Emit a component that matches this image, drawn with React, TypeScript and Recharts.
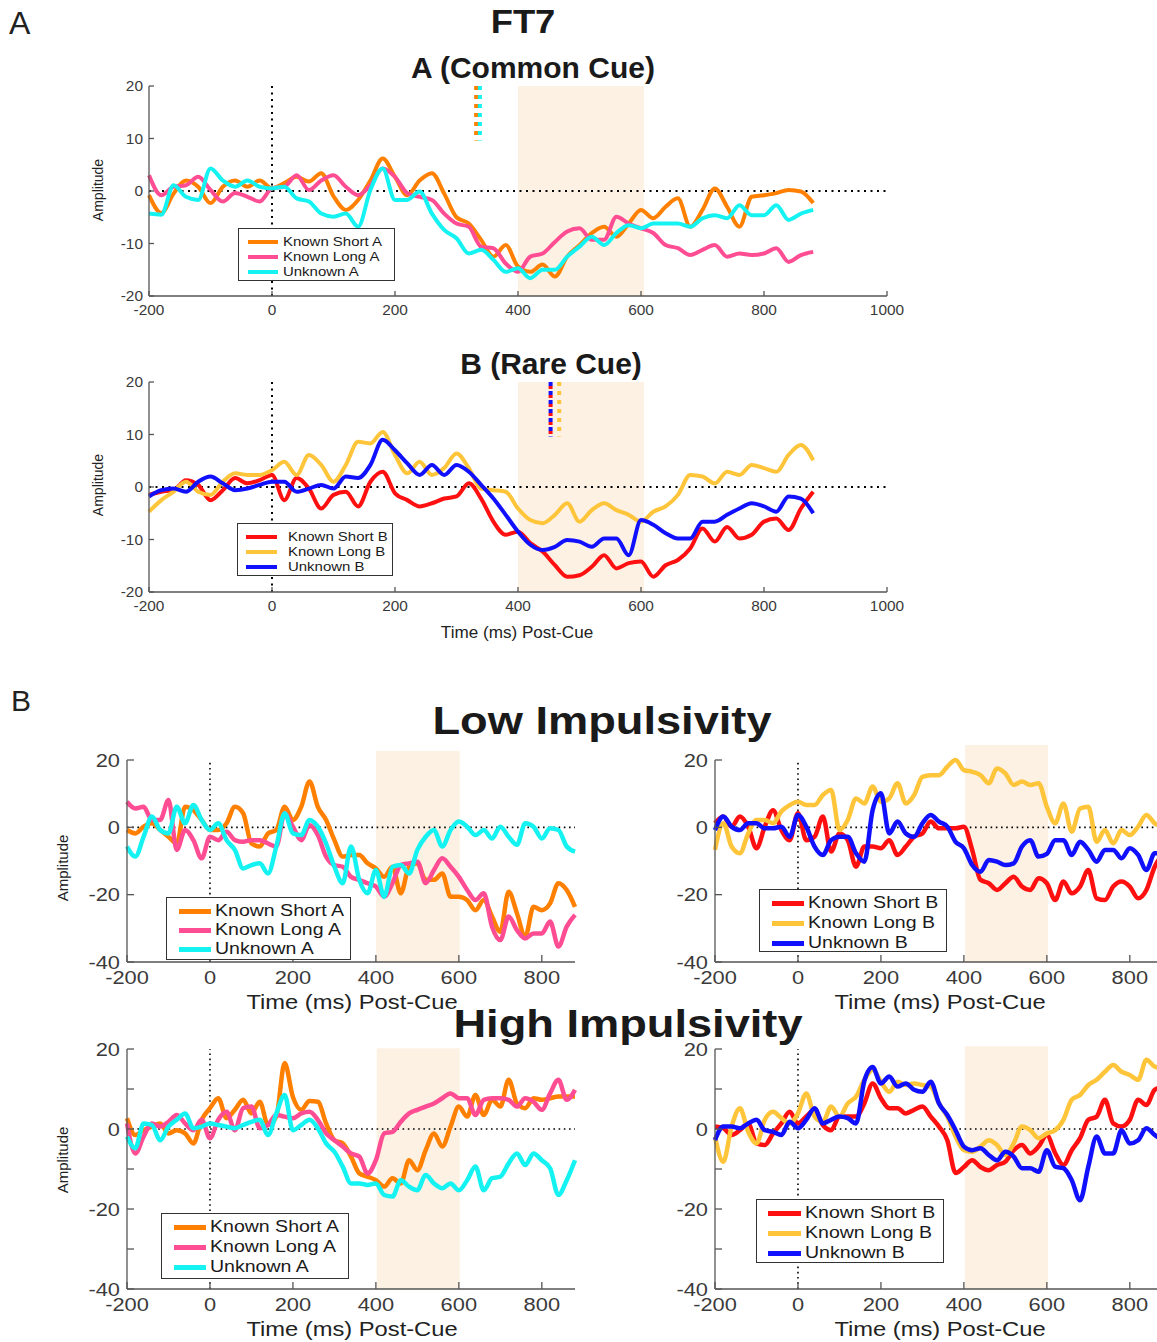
import React from "react";
import { LineChart, Line, XAxis, YAxis, ReferenceArea, ReferenceLine } from "recharts";

const FONT = "'Liberation Sans', Arial, Helvetica, sans-serif";

const TIMES = [
  -200, -180, -160, -140, -120, -100, -80, -60, -40, -20,
  0, 20, 40, 60, 80, 100, 120, 140, 160, 180,
  200, 220, 240, 260, 280, 300, 320, 340, 360, 380,
  400, 420, 440, 460, 480, 500, 520, 540, 560, 580,
  600, 620, 640, 660, 680, 700, 720, 740, 760, 780,
  800, 820, 840, 860, 880,
];

// FT7, common cue (A)
const commonShort = [
  -0.8, -4.2, -0.5, 2, 0.8, -2.3, 0.8, 2, 0.8, 2,
  0.5, 1.5, 2.7, 1.8, 3.4, -1, -3.6, -1.7, 2, 6.2,
  2.7, -0.8, 2, 3.4, -0.5, -5, -6.2, -9.3, -12.5, -10.3,
  -14.4, -15.4, -14, -16.3, -12.5, -10.3, -8, -6.8, -8.7, -6.2,
  -3.6, -5.2, -3, -1.4, -6.8, -3.6, 0.5, -3, -6.8, -1.1,
  -0.8, -0.4, 0.2, -0.1, -2.3,
];
const commonLong = [
  3, -0.8, 0.8, 1.1, 2.7, 0.2, -2, -0.4, -1.1, -2,
  0.5, 0.8, 3, 0.2, 2, 3, 0.8, -0.8, 1.1, 4.3,
  2.7, -0.4, -1.1, -1.7, -4.3, -6.2, -6.8, -10.6, -10.9, -13.8,
  -15.4, -12.5, -11.9, -9.7, -7.7, -7.1, -9.3, -9.3, -4.9, -6.2,
  -7.1, -8, -10.3, -10.9, -12.2, -11.2, -10.3, -12.5, -11.9, -12.2,
  -11.9, -10.9, -13.5, -12.2, -11.6,
];
const commonUnknown = [
  -4.3, -4.5, 1.1, -1.1, -1.7, 4.3, 2, 0.8, 2, 0.8,
  0.5, 0.8, -1.4, -2, -4.3, -4.9, -4.3, -6.8, 0.2, 4.3,
  -1.7, -1.7, -0.1, -4.3, -7.4, -9, -11.9, -11.2, -13.1, -15.4,
  -14.7, -16.6, -15, -15, -12.5, -10.6, -8.7, -10.3, -8, -6.5,
  -7.1, -6.2, -6.2, -6.2, -6.8, -5.2, -4.6, -5.2, -2.7, -4.6,
  -4.6, -2.7, -5.5, -4.3, -3.6,
];

// FT7, rare cue (B)
const rareShort = [
  -1.5, -0.9, -0.6, 1.3, 0.4, -2.5, -0.6, 1.7, 0.7, 1.3,
  2.3, -2.5, 1.7, -0.3, -4.1, -1.5, -0.9, -3.7, 1, 2.9,
  -1.2, -2.5, -3.7, -3.1, -2.2, -1.8, 0.7, -2.2, -6.6, -9.1,
  -8.5, -10.7, -12.3, -14.9, -17.1, -16.8, -15.2, -13, -15.5, -14.5,
  -14.2, -17.1, -14.9, -13.9, -11.7, -7.9, -10.4, -7.6, -9.8, -9.1,
  -6.6, -6, -8.2, -4.1, -0.9,
];
const rareLong = [
  -4.7, -2.5, -0.9, 1, -0.9, -1.5, 1, 2.6, 2.3, 2.3,
  3.2, 4.8, 2.3, 6.1, 4.2, 1, 4.2, 8.6, 8.3, 10.5,
  6.1, 2.6, 4.8, 2.3, 3.6, 6.4, 3.6, -0.3, -0.6, -0.9,
  -4.1, -6.3, -6.9, -5.3, -3.1, -6.6, -4.4, -3.1, -4.4, -5.3,
  -6.6, -4.7, -3.7, -1.5, 2.3, 2, 0.7, 2.9, 2.3, 4.2,
  3.6, 2.9, 6.1, 8, 5.1,
];
const rareUnknown = [
  -1.8, -0.6, -0.3, -0.9, 1, 2, 0.7, -0.6, -0.3, 0.4,
  1, 1, -0.9, -0.3, 0.4, -0.3, 2, 1.7, 4.2, 9,
  7, 4.5, 2.3, 4.2, 2.3, 4.2, 2.9, 0.4, -2.2, -5.3,
  -8.5, -11, -12, -11.4, -10.1, -10.4, -11.4, -9.8, -9.8, -13,
  -6.3, -7.2, -8.8, -9.8, -9.8, -6.6, -6.6, -5.3, -4.1, -3.1,
  -3.7, -4.7, -1.8, -2.2, -5,
];

// Low impulsivity, cue A
const lowShortA = [
  -0.8, -1.8, 0.2, 1.2, -0.8, -2.8, -4.8, 6.1, 5.1, 2.2,
  -0.8, -0.8, 1.2, 6.1, 4.2, -4.8, -5.7, -1.8, -0.8, 6.1,
  2.2, 6.1, 13.6, 6.1, 2.2, -3.8, -8.7, -8.2, -8.2, -10.7,
  -12.2, -14.7, -11.7, -19.6, -11.7, -10.7, -15.6, -15.6, -13.7, -20.6,
  -20.6, -21.6, -24.6, -21.6, -26.5, -31, -19.1, -25.5, -32.5, -23.6,
  -24.6, -22.6, -16.6, -18.6, -23.6,
];
const lowLongA = [
  7.6, 5.6, 6.1, 2.2, 2.2, 8.1, -6.7, -0.8, -3.8, -9.2,
  -2.8, -3.8, -1.3, -3.8, -4.3, -3.8, -3.8, -4.8, -5.7, 4.2,
  0.2, -3.8, 0.7, -2.3, -8.7, -11.2, -11.7, -14.7, -15.6, -16.6,
  -17.6, -20.6, -16.6, -11.2, -10.7, -10.2, -16.6, -12.7, -9.2, -11.7,
  -14.7, -18.6, -21.6, -19.6, -29.5, -33.5, -26.5, -30.5, -33, -31.5,
  -31.5, -28, -35.4, -29.5, -26,
];
const lowUnknownA = [
  -5.7, -8.7, -2.8, 3.2, -0.8, -1.8, 6.1, 1.2, 6.6, 2.2,
  -0.8, 1.2, -3.8, -6.7, -12.2, -11.2, -10.7, -13.7, -5.7, 4.2,
  -1.8, -2.3, 2.2, 0.2, -4.8, -11.7, -16.6, -5.7, -15.6, -19.6,
  -12.7, -20.6, -11.7, -11.2, -13.7, -6.7, -2.8, -0.8, -5.7, -0.8,
  1.7, 0.2, -2.3, -0.8, -3.3, 0.2, -2.8, -5.2, 1.2, 0.2,
  -3.3, -0.3, -0.8, -5.7, -7.2,
];

// Low impulsivity, cue B
const lowShortB = [
  1.2, 3.2, 0.2, 3.2, 0.2, -6.2, 0.2, 5.1, -0.8, -3.8,
  4.2, -3.8, -2.8, 3.2, -7.2, -1.8, -3.8, -11.7, -5.7, -5.7,
  -6.2, -3.8, -8.2, -5.7, -2.8, -1.8, 1.7, -0.3, -0.3, -0.3,
  0.2, -6.7, -15.6, -16.6, -18.6, -16.6, -14.7, -17.6, -18.6, -15.1,
  -16.6, -21.6, -16.1, -19.6, -17.6, -12.7, -21.1, -21.6, -17.6, -16.1,
  -17.6, -21.1, -18.6, -11.7, -8,
];
const lowLongB = [
  -6.7, 1.2, -5.7, -7.7, -1.8, 2.2, 2.2, 1.2, 4.7, 6.6,
  7.6, 6.6, 6.6, 9.6, 11.1, -0.8, 2.2, 8.6, 7.1, 12.1,
  7.6, 8.6, 13.1, 7.1, 9.6, 15, 15.5, 15.5, 18, 20,
  17, 16.5, 15.5, 13.1, 17.5, 16, 12.6, 13.6, 12.6, 13.1,
  6.1, 1.2, 7.1, -1.3, 5.6, 6.1, -4.3, -0.8, -4.8, -0.8,
  -2.3, 0.2, 3.7, 1.2, 0.2,
];
const lowUnknownB = [
  -0.8, 3.2, 0.2, -0.8, 1.2, 1.2, -0.3, -0.3, 0.2, -2.8,
  3.7, 0.2, -5.7, -8.2, -3.8, -2.8, -2.8, -7.7, -10.2, 5.1,
  10.1, -1.8, 1.7, -1.8, -2.8, 1.2, 3.7, 1.7, 0.2, -4.3,
  -6.2, -11.2, -13.2, -9.7, -10.2, -11.2, -10.7, -5.7, -3.8, -8.7,
  -7.9, -3.8, -3.8, -8.2, -4.3, -6.7, -10.2, -6.7, -6.7, -9.2,
  -6.2, -8.2, -12.7, -7.7, -7.7,
];

// High impulsivity, cue A
const highShortA = [
  2.7, -1.5, -0.3, 0.6, 1.4, -1.1, -0.3, -1.1, -3.6, 2.3,
  5.2, 7.7, 2.7, 4.8, 7.3, 3.9, 6.8, 1, 3.1, 16.5,
  8, 4.8, 7, 6.8, 1.4, -2.8, -3.6, -6.9, -11.1, -11.9,
  -12.8, -14.4, -12.3, -13.6, -7.8, -10.3, -5.3, -1.1, -4.4, 0.6,
  5.6, 3.1, 8.5, 3.5, 7.3, 5.6, 12.3, 6.4, 5.2, 7.7,
  7.3, 7.7, 8.1, 8.1, 8.1,
];
const highLongA = [
  1.4, -6.1, -1.9, 1.4, 0.6, 1.8, 3.5, 1.4, -0.3, 2.3,
  -2.3, 2.3, 4.3, -0.3, 5.2, 5.6, 0.2, 1, 3.5, 3.1,
  2.7, 3.9, 4.3, 2.3, -1.1, -2.8, -4.4, -6.1, -6.9, -11.1,
  -7.8, -1.1, -0.7, 1.8, 3.9, 4.8, 5.6, 6.4, 7.7, 8.9,
  7.7, 7.7, 3.5, 7.3, 7.7, 7.7, 7.3, 5.6, 7.7, 6.8,
  4.8, 8.9, 12.3, 7.3, 9.8,
];
const highUnknownA = [
  -1.9, -4.8, 1.4, 1, -2.8, 0.6, 2.3, 3.9, 0.2, 0.6,
  1.4, 1, 0.6, 0.2, 1, 1.8, 2.3, -1.5, 3.9, 8.5,
  -0.3, 1, 2.3, 0.2, -3.6, -5.7, -9.4, -13.6, -13.6, -14,
  -13.6, -16.5, -16.9, -12.8, -14.4, -15.3, -11.5, -13.6, -14.8, -13.6,
  -15.3, -12.8, -9.4, -15.3, -12.3, -11.9, -8.6, -6.1, -9, -6.1,
  -7.8, -9.8, -16.5, -12.8, -7.8,
];

// High impulsivity, cue B
const highShortB = [
  0.6, 0.2, -1.5, -0.3, 1.4, -3.6, -4, -1.1, 1.4, 4.3,
  1.4, 3.1, 4.8, 1, -0.3, 3.1, 3.1, 3.1, 6.4, 11.4,
  7.7, 5.2, 5.2, 3.9, 4.8, 5.6, 3.1, 0.6, -2.8, -11,
  -9.5, -7.8, -9.5, -10.3, -9, -8.2, -5.3, -4, -6.1, -4.4,
  -1.5, -6, -9, -5.3, -2.3, 2.3, 3.1, 7.3, 1.4, 0.6,
  2.3, 7.3, 6, 9.8, 10.6,
];
const highLongB = [
  -1.9, -8.2, 0.6, 5.2, -0.7, -3.6, 2.3, 4.3, 2.7, 1.4,
  3.9, 8.9, 3.1, 1.8, 5.6, 3.1, 6.4, 8.1, 12.3, 14.8,
  11.8, 9.3, 11.8, 11, 11.4, 11, 10.6, 6.4, 3.1, -1.9,
  -5.3, -5.7, -4.4, -2.8, -4, -6.5, -3.6, 0.6, -0.3, -2.3,
  -1.1, -0.3, 2.3, 7.3, 8.5, 11, 12.3, 14.3, 16, 14.3,
  13.5, 12.3, 17.3, 15.6, 15.2,
];
const highUnknownB = [
  -2.8, 0.6, 0.6, 0.2, 1.4, 2.3, -0.3, -0.7, -1.5, 1.8,
  0.2, 2.3, 5.2, 1.4, 2.3, 3.1, 2.7, 1.4, 12, 15.5,
  11.4, 13.1, 10.6, 11.4, 9.8, 9.3, 11.8, 6.4, 3.5, -0.3,
  -4.4, -5.3, -4.8, -6.5, -7.8, -5.7, -6.9, -9.8, -9.8, -10.7,
  -5.3, -9.4, -9.8, -12.8, -17.8, -9.4, -1.9, -6.1, -6.1, -0.3,
  -3.6, -2.8, 0.2, -1.5, -2.8,
];

// significance marks above the FT7 panels (ms)
const commonMarks = [332, 338];
const rareMarks = [453, 467];

const TOP_X_TICKS = [-200, 0, 200, 400, 600, 800, 1000];
const TOP_Y_TICKS = [-20, -10, 0, 10, 20];
const BOTTOM_X_TICKS = [-200, 0, 200, 400, 600, 800];
const LOW_Y_TICKS = [-40, -20, 0, 20];
const HIGH_Y_TICKS = [-40, -30, -20, -10, 0, 10, 20];

const ORANGE = "#ff8000";
const PINK = "#ff4d94";
const CYAN = "#14f2f2";
const RED = "#ff1010";
const GOLD = "#ffc53a";
const BLUE = "#1010ff";
const SHADE = "#fdf1e4";
const AXIS = "#555";

type Series = { key: string; name: string; color: string; values: number[] };
type Mark = { t: number; color: string; dash: string; offset: number };

const cueA = (s: number[], l: number[], u: number[]): Series[] => [
  { key: "short", name: "Known Short A", color: ORANGE, values: s },
  { key: "long", name: "Known Long A", color: PINK, values: l },
  { key: "unknown", name: "Unknown A", color: CYAN, values: u },
];
const cueB = (s: number[], l: number[], u: number[]): Series[] => [
  { key: "short", name: "Known Short B", color: RED, values: s },
  { key: "long", name: "Known Long B", color: GOLD, values: l },
  { key: "unknown", name: "Unknown B", color: BLUE, values: u },
];

function toRows(series: Series[]) {
  return TIMES.map((t, i) => {
    const row: Record<string, number> = { t };
    series.forEach((s) => (row[s.key] = s.values[i]));
    return row;
  });
}

// tick labels are stretched a little horizontally, like the exported figure
function makeTick(side: "x" | "y", size: number, sx: number, every: number) {
  return (props: any) => {
    const { x, y, payload } = props;
    const v = payload.value as number;
    if (v % every !== 0) return <g />;
    const tf = `translate(${x} ${y}) scale(${sx} 1) translate(${-x} ${-y})`;
    return (
      <text
        x={x}
        y={y}
        dy={side === "y" ? "0.36em" : "0.71em"}
        textAnchor={side === "y" ? "end" : "middle"}
        transform={tf}
        fill="#3a3a3a"
        fontSize={size}
        fontFamily={FONT}
      >
        {v}
      </text>
    );
  };
}

interface LegendSpec {
  left: number;
  top: number;
  width: number;
  height: number;
  rows: number[];
  line: [number, number];
  textX: number;
  font: number;
  sx: number;
  thick: number;
}

function LegendBox({ spec, series }: { spec: LegendSpec; series: Series[] }) {
  return (
    <div
      style={{
        position: "absolute",
        left: spec.left,
        top: spec.top,
        width: spec.width,
        height: spec.height,
        boxSizing: "border-box",
        border: "1px solid #333",
        background: "#fff",
        fontFamily: FONT,
      }}
    >
      {series.map((s, i) => (
        <React.Fragment key={s.key}>
          <div
            style={{
              position: "absolute",
              left: spec.line[0],
              width: spec.line[1] - spec.line[0],
              top: spec.rows[i] - spec.thick / 2,
              height: spec.thick,
              background: s.color,
            }}
          />
          <div
            style={{
              position: "absolute",
              left: spec.textX,
              top: spec.rows[i] - spec.font * 0.6,
              fontSize: spec.font,
              lineHeight: `${spec.font * 1.2}px`,
              whiteSpace: "nowrap",
              color: "#1a1a1a",
              transform: `scaleX(${spec.sx})`,
              transformOrigin: "left center",
            }}
          >
            {s.name}
          </div>
        </React.Fragment>
      ))}
    </div>
  );
}

interface PanelProps {
  left: number;
  top: number;
  width: number;
  height: number;
  marginTop: number;
  marginRight: number;
  yAxisWidth: number;
  xAxisHeight: number;
  series: Series[];
  xDomain: [number, number];
  xTicks: number[];
  yDomain: [number, number];
  yTicks: number[];
  yLabelEvery: number;
  tickFont: number;
  tickSx: number;
  tickLen: number;
  yGap: number;
  xGap: number;
  band: [number, number, number];
  stroke: number;
  dots: { width: number; dash: string };
  legend: LegendSpec;
  marks?: Mark[];
}

function Panel(p: PanelProps) {
  const data = toRows(p.series);
  return (
    <>
      <div style={{ position: "absolute", left: p.left, top: p.top }}>
        <LineChart
          width={p.width}
          height={p.height}
          data={data}
          margin={{ top: p.marginTop, right: p.marginRight, bottom: 0, left: 0 }}
        >
          <XAxis
            dataKey="t"
            type="number"
            domain={p.xDomain}
            ticks={p.xTicks}
            interval={0}
            height={p.xAxisHeight}
            axisLine={{ stroke: AXIS, strokeWidth: 1.3 }}
            tickLine={{ stroke: AXIS, strokeWidth: 1.3 }}
            tickSize={-p.tickLen}
            tickMargin={p.tickLen + p.xGap}
            tick={makeTick("x", p.tickFont, p.tickSx, 1)}
          />
          <YAxis
            type="number"
            domain={p.yDomain}
            ticks={p.yTicks}
            interval={0}
            width={p.yAxisWidth}
            axisLine={{ stroke: AXIS, strokeWidth: 1.3 }}
            tickLine={{ stroke: AXIS, strokeWidth: 1.3 }}
            tickSize={-p.tickLen}
            tickMargin={p.tickLen + p.yGap}
            tick={makeTick("y", p.tickFont, p.tickSx, p.yLabelEvery)}
          />
          <ReferenceArea
            x1={p.band[0]}
            x2={p.band[1]}
            y1={p.yDomain[0]}
            y2={p.band[2]}
            fill={SHADE}
            fillOpacity={1}
            stroke="none"
            ifOverflow="visible"
          />
          <ReferenceLine y={0} stroke="#000" strokeWidth={p.dots.width} strokeDasharray={p.dots.dash} />
          <ReferenceLine x={0} stroke="#000" strokeWidth={p.dots.width} strokeDasharray={p.dots.dash} />
          {p.series.map((s) => (
            <Line
              key={s.key}
              dataKey={s.key}
              name={s.name}
              type="monotone"
              stroke={s.color}
              strokeWidth={p.stroke}
              dot={false}
              activeDot={false}
              isAnimationActive={false}
            />
          ))}
          {(p.marks || []).map((m, i) => (
            <ReferenceLine
              key={i}
              segment={[
                { x: m.t, y: 20 },
                { x: m.t, y: 9.6 },
              ]}
              stroke={m.color}
              strokeWidth={4}
              strokeDasharray={m.dash}
              strokeDashoffset={m.offset}
            />
          ))}
        </LineChart>
      </div>
      <LegendBox spec={p.legend} series={p.series} />
    </>
  );
}

const topBase = {
  left: 60,
  width: 870,
  height: 262,
  marginTop: 16,
  marginRight: 43,
  yAxisWidth: 89,
  xAxisHeight: 36,
  xDomain: [-200, 1000] as [number, number],
  xTicks: TOP_X_TICKS,
  yDomain: [-20, 20] as [number, number],
  yTicks: TOP_Y_TICKS,
  yLabelEvery: 1,
  tickFont: 14,
  tickSx: 1.1,
  tickLen: 5,
  yGap: 6,
  xGap: 9,
  band: [400, 605, 20] as [number, number, number],
  stroke: 4,
  dots: { width: 2, dash: "2 4.5" },
};

const bottomBase = {
  width: 555,
  marginTop: 15,
  marginRight: 10,
  yAxisWidth: 97,
  xAxisHeight: 48,
  xDomain: [-200, 880] as [number, number],
  xTicks: BOTTOM_X_TICKS,
  yDomain: [-40, 20] as [number, number],
  tickFont: 19,
  tickSx: 1.15,
  tickLen: 7,
  yGap: 7,
  xGap: 9,
  stroke: 4.5,
  dots: { width: 1.6, dash: "1.6 3.6" },
};

const legendTop = { rows: [13, 28, 43], font: 13, sx: 1.15, thick: 4 };
const legendBottom = { rows: [13, 33, 53], line: [12, 44] as [number, number], textX: 48, font: 16, sx: 1.22, thick: 5 };

function Label({
  x,
  y,
  size,
  bold,
  sx = 1,
  anchor = "middle",
  rotate = false,
  children,
}: {
  x: number;
  y: number;
  size: number;
  bold?: boolean;
  sx?: number;
  anchor?: "start" | "middle" | "end";
  rotate?: boolean;
  children: React.ReactNode;
}) {
  const tf = rotate
    ? `translate(${x} ${y}) rotate(-90) scale(${sx} 1)`
    : `translate(${x} ${y}) scale(${sx} 1)`;
  return (
    <text
      transform={tf}
      textAnchor={anchor}
      dominantBaseline={rotate ? "central" : "alphabetic"}
      fontSize={size}
      fontWeight={bold ? 700 : 400}
      fontFamily={FONT}
      fill={bold ? "#1a1a1a" : "#222"}
    >
      {children}
    </text>
  );
}

export default function App() {
  return (
    <div
      style={{
        position: "absolute",
        left: 0,
        top: 0,
        width: 1157,
        height: 1342,
        overflow: "hidden",
        background: "#fff",
      }}
    >
      <Panel
        {...topBase}
        top={70}
        series={cueA(commonShort, commonLong, commonUnknown)}
        legend={{ ...legendTop, left: 238, top: 228, width: 157, height: 53, line: [9, 39], textX: 44 }}
        marks={[
          { t: commonMarks[0], color: ORANGE, dash: "4 5", offset: 0 },
          { t: commonMarks[1], color: CYAN, dash: "4 5", offset: 0 },
        ]}
      />
      <Panel
        {...topBase}
        top={366}
        series={cueB(rareShort, rareLong, rareUnknown)}
        legend={{ ...legendTop, left: 237, top: 523, width: 156, height: 53, line: [8, 39], textX: 50 }}
        marks={[
          { t: rareMarks[0], color: BLUE, dash: "4 5", offset: 0 },
          { t: rareMarks[0], color: RED, dash: "3 6", offset: 5 },
          { t: rareMarks[1], color: GOLD, dash: "4 5", offset: 0 },
        ]}
      />
      <Panel
        {...bottomBase}
        left={30}
        top={745}
        height={265}
        yTicks={LOW_Y_TICKS}
        yLabelEvery={20}
        band={[400, 602, 22.7]}
        series={cueA(lowShortA, lowLongA, lowUnknownA)}
        legend={{ ...legendBottom, left: 166, top: 897, width: 185, height: 63, rows: [13, 32, 51] }}
      />
      <Panel
        {...bottomBase}
        left={618}
        top={745}
        height={265}
        yTicks={LOW_Y_TICKS}
        yLabelEvery={20}
        band={[403, 603, 24.7]}
        series={cueB(lowShortB, lowLongB, lowUnknownB)}
        legend={{ ...legendBottom, left: 759, top: 889, width: 188, height: 63 }}
      />
      <Panel
        {...bottomBase}
        left={30}
        top={1034}
        height={303}
        yTicks={HIGH_Y_TICKS}
        yLabelEvery={20}
        band={[402, 602, 20.2]}
        series={cueA(highShortA, highLongA, highUnknownA)}
        legend={{ ...legendBottom, left: 161, top: 1213, width: 188, height: 66 }}
      />
      <Panel
        {...bottomBase}
        left={618}
        top={1034}
        height={303}
        yTicks={HIGH_Y_TICKS}
        yLabelEvery={20}
        band={[402, 603, 20.7]}
        series={cueB(highShortB, highLongB, highUnknownB)}
        legend={{ ...legendBottom, left: 756, top: 1199, width: 188, height: 64, line: [11, 44] }}
      />
      <svg
        width={1157}
        height={1342}
        style={{ position: "absolute", left: 0, top: 0, pointerEvents: "none" }}
      >
        <Label x={9} y={34} size={32} anchor="start">A</Label>
        <Label x={523} y={33} size={34} bold sx={1.07}>FT7</Label>
        <Label x={533} y={78} size={30} bold>A (Common Cue)</Label>
        <Label x={551} y={374} size={30} bold>B (Rare Cue)</Label>
        <Label x={98} y={190} size={14} rotate>Amplitude</Label>
        <Label x={98} y={485} size={14} rotate>Amplitude</Label>
        <Label x={517} y={638} size={16} sx={1.07}>Time (ms) Post-Cue</Label>
        <Label x={11} y={711} size={30} anchor="start">B</Label>
        <Label x={602} y={734} size={38} bold sx={1.19}>Low Impulsivity</Label>
        <Label x={628} y={1037} size={38} bold sx={1.19}>High Impulsivity</Label>
        <Label x={62} y={868} size={15} rotate>Amplitude</Label>
        <Label x={62} y={1160} size={15} rotate>Amplitude</Label>
        <Label x={352} y={1009} size={21} sx={1.13}>Time (ms) Post-Cue</Label>
        <Label x={940} y={1009} size={21} sx={1.13}>Time (ms) Post-Cue</Label>
        <Label x={352} y={1336} size={21} sx={1.13}>Time (ms) Post-Cue</Label>
        <Label x={940} y={1336} size={21} sx={1.13}>Time (ms) Post-Cue</Label>
      </svg>
    </div>
  );
}
